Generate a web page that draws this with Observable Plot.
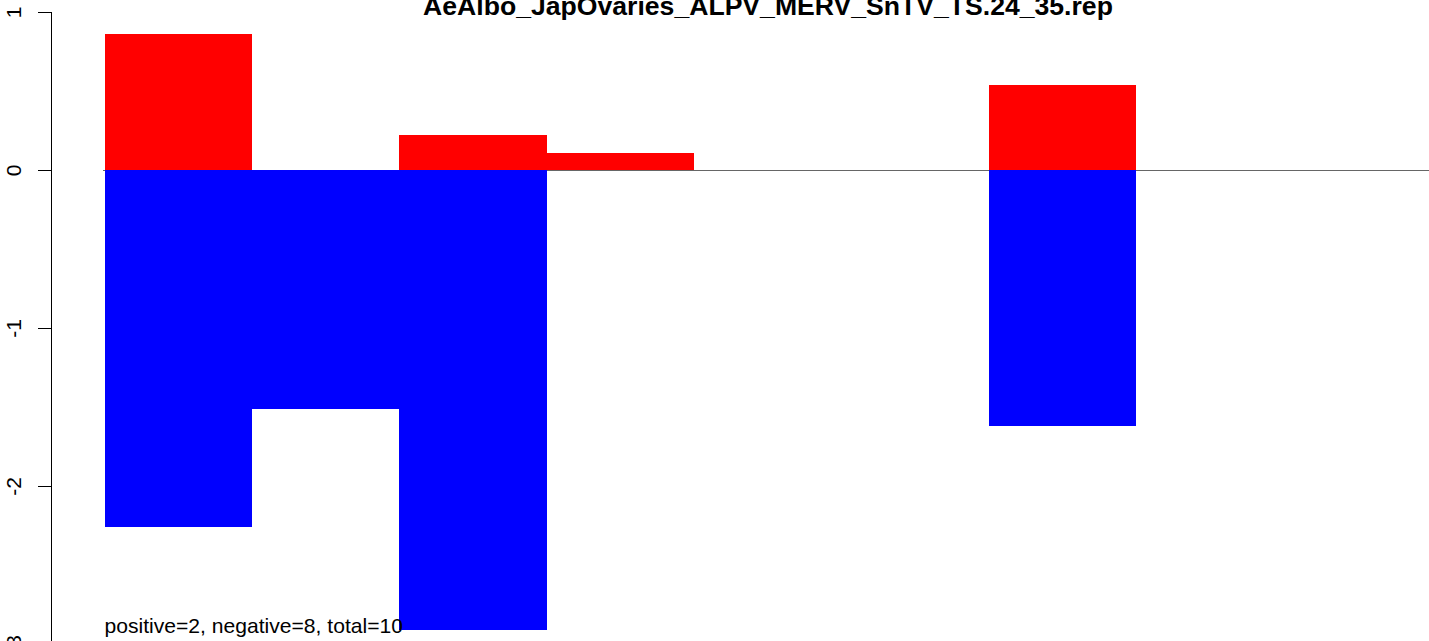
<!DOCTYPE html>
<html><head><meta charset="utf-8">
<script src="https://cdn.jsdelivr.net/npm/d3@7"></script>
<script src="https://cdn.jsdelivr.net/npm/@observablehq/plot@0.6"></script>
<style>body{margin:0;background:#fff;} svg{display:block}</style>
</head><body><div id="chart"></div>
<script>
const title = "AeAlbo_JapOvaries_ALPV_MERV_SnTV_TS.24_35.rep";
const caption = "positive=2, negative=8, total=10";
const categories = ["1","2","3","4","5","6","7","8","9"];
const positiveValues = [0.86, 0, 0.22, 0.11, 0, 0, 0.54, 0, 0];
const negativeValues = [-2.26, -1.51, -2.91, 0, 0, 0, -1.62, 0, 0];
const yTicks = [1, 0, -1, -2, -3];

const rows = [];
categories.forEach((c, i) => {
  rows.push({cat: c, value: positiveValues[i], sign: "positive"});
  rows.push({cat: c, value: negativeValues[i], sign: "negative"});
});

const chart = Plot.plot({
  width: 1429,
  height: 641,
  marginTop: 12,
  marginLeft: 51,
  marginRight: 0,
  marginBottom: 0,
  style: {fontFamily: "'Liberation Sans', Arial, Helvetica, sans-serif", background: "white", color: "black"},
  x: {type: "band", domain: categories, range: [104.5, 1430.5], padding: 0, round: false, axis: null},
  y: {domain: [-3, 1], range: [644, 12], axis: null},
  color: {domain: ["positive", "negative"], range: ["#ff0000", "#0000ff"]},
  marks: [
    Plot.ruleY([0], {stroke: "#666666", strokeWidth: 1, insetLeft: 52}),
    Plot.barY(rows, {x: "cat", y1: 0, y2: "value", fill: "sign", shapeRendering: "crispEdges"}),
    Plot.frame({anchor: "left", stroke: "black"}),
    Plot.axisY({ticks: yTicks, tickSize: 13, tickFormat: () => "", label: null, stroke: "black", strokeOpacity: 1}),
    Plot.text(yTicks, {y: d => d, text: d => String(d), frameAnchor: "left", dx: -31, rotate: -90, textAnchor: "middle", lineAnchor: "bottom", fontSize: 21, fill: "black"}),
    Plot.text([title], {frameAnchor: "top", dx: 27.5, dy: 2, lineAnchor: "bottom", fontSize: 26.6, fontWeight: "bold", fill: "black"}),
    Plot.text([caption], {frameAnchor: "bottom-left", dx: 53, dy: -9, textAnchor: "start", lineAnchor: "bottom", fontSize: 21.1, fill: "black"})
  ]
});
document.getElementById("chart").appendChild(chart);
</script>
</body></html>
